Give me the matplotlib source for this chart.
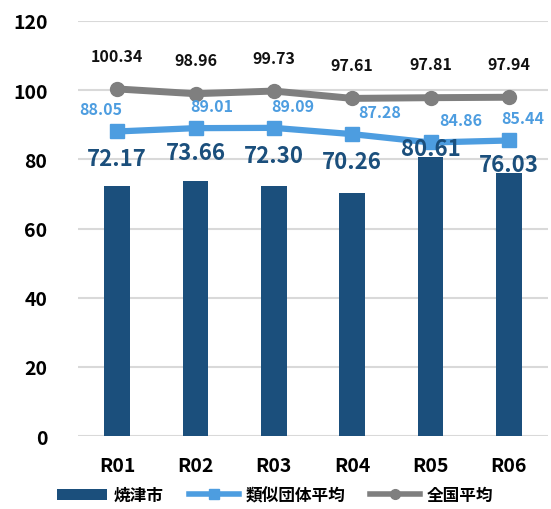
import matplotlib
matplotlib.use("Agg")
import matplotlib.pyplot as plt
import numpy as np

plt.rcParams['font.family'] = ['Noto Sans CJK JP', 'DejaVu Sans']

# data
years = ['R01', 'R02', 'R03', 'R04', 'R05', 'R06']
yaizu = [72.17, 73.66, 72.30, 70.26, 80.61, 76.03]
similar_avg = [88.05, 89.01, 89.09, 87.28, 84.86, 85.44]
national_avg = [100.34, 98.96, 99.73, 97.61, 97.81, 97.94]
series_names = ['焼津市', '類似団体平均', '全国平均']

c_bar = '#1B4F7C'
c_sim = '#4D9DE0'
c_nat = '#7F7F7F'

fig = plt.figure(figsize=(5.51, 5.10), dpi=100)
ax = fig.add_axes([0.1416, 0.143, 0.853, 0.814])

x = np.arange(len(years))
bars = ax.bar(x, yaizu, width=0.33, color=c_bar, label=series_names[0], zorder=2)
l_sim, = ax.plot(x, similar_avg, color=c_sim, lw=4.5, marker='s', ms=10,
                 label=series_names[1], zorder=3)
l_nat, = ax.plot(x, national_avg, color=c_nat, lw=5, marker='o', ms=10,
                 label=series_names[2], zorder=4)

# label offsets (points)
bar_dy = [20, 21, 22, 23, 6, 6]
sim_dx = [-12, 12, 14, 20, 22, 10]
for i in range(len(years)):
    ax.annotate(f'{yaizu[i]:.2f}', (x[i], yaizu[i]), xytext=(0, bar_dy[i]),
                textcoords='offset points', ha='center', va='center',
                fontsize=16, fontweight='bold', color=c_bar, zorder=5)
    ax.annotate(f'{similar_avg[i]:.2f}', (x[i], similar_avg[i]),
                xytext=(sim_dx[i], 16), textcoords='offset points',
                ha='center', va='center', fontsize=11.5, fontweight='bold',
                color=c_sim, zorder=5)
    ax.annotate(f'{national_avg[i]:.2f}', (x[i], national_avg[i]),
                xytext=(0, 24), textcoords='offset points', ha='center',
                va='center', fontsize=11.5, fontweight='bold', color='#111111',
                zorder=5)

ax.set_ylim(0, 120)
ax.set_yticks(range(0, 121, 20))
ax.set_xlim(-0.5, len(years) - 0.5)
ax.set_xticks(x)
ax.set_xticklabels(years)
ax.grid(axis='y', color='#D9D9D9', lw=1.5, zorder=0)
for s in ax.spines.values():
    s.set_visible(False)
ax.tick_params(length=0, labelsize=14)
for lab in ax.get_xticklabels() + ax.get_yticklabels():
    lab.set_fontweight('bold')
ax.tick_params(axis='x', pad=14)
ax.tick_params(axis='y', pad=22)

leg = fig.legend([bars, l_sim, l_nat], series_names, loc='lower center',
                 bbox_to_anchor=(0.5, -0.02), ncol=3,
                 frameon=False, handlelength=3.0, columnspacing=1.5,
                 handletextpad=0.4, prop={'weight': 'bold', 'size': 12})
for h in leg.legend_handles[1:]:
    h.set_markersize(7)
    h.set_linewidth(4)

fig.savefig('out.png', dpi=100)
